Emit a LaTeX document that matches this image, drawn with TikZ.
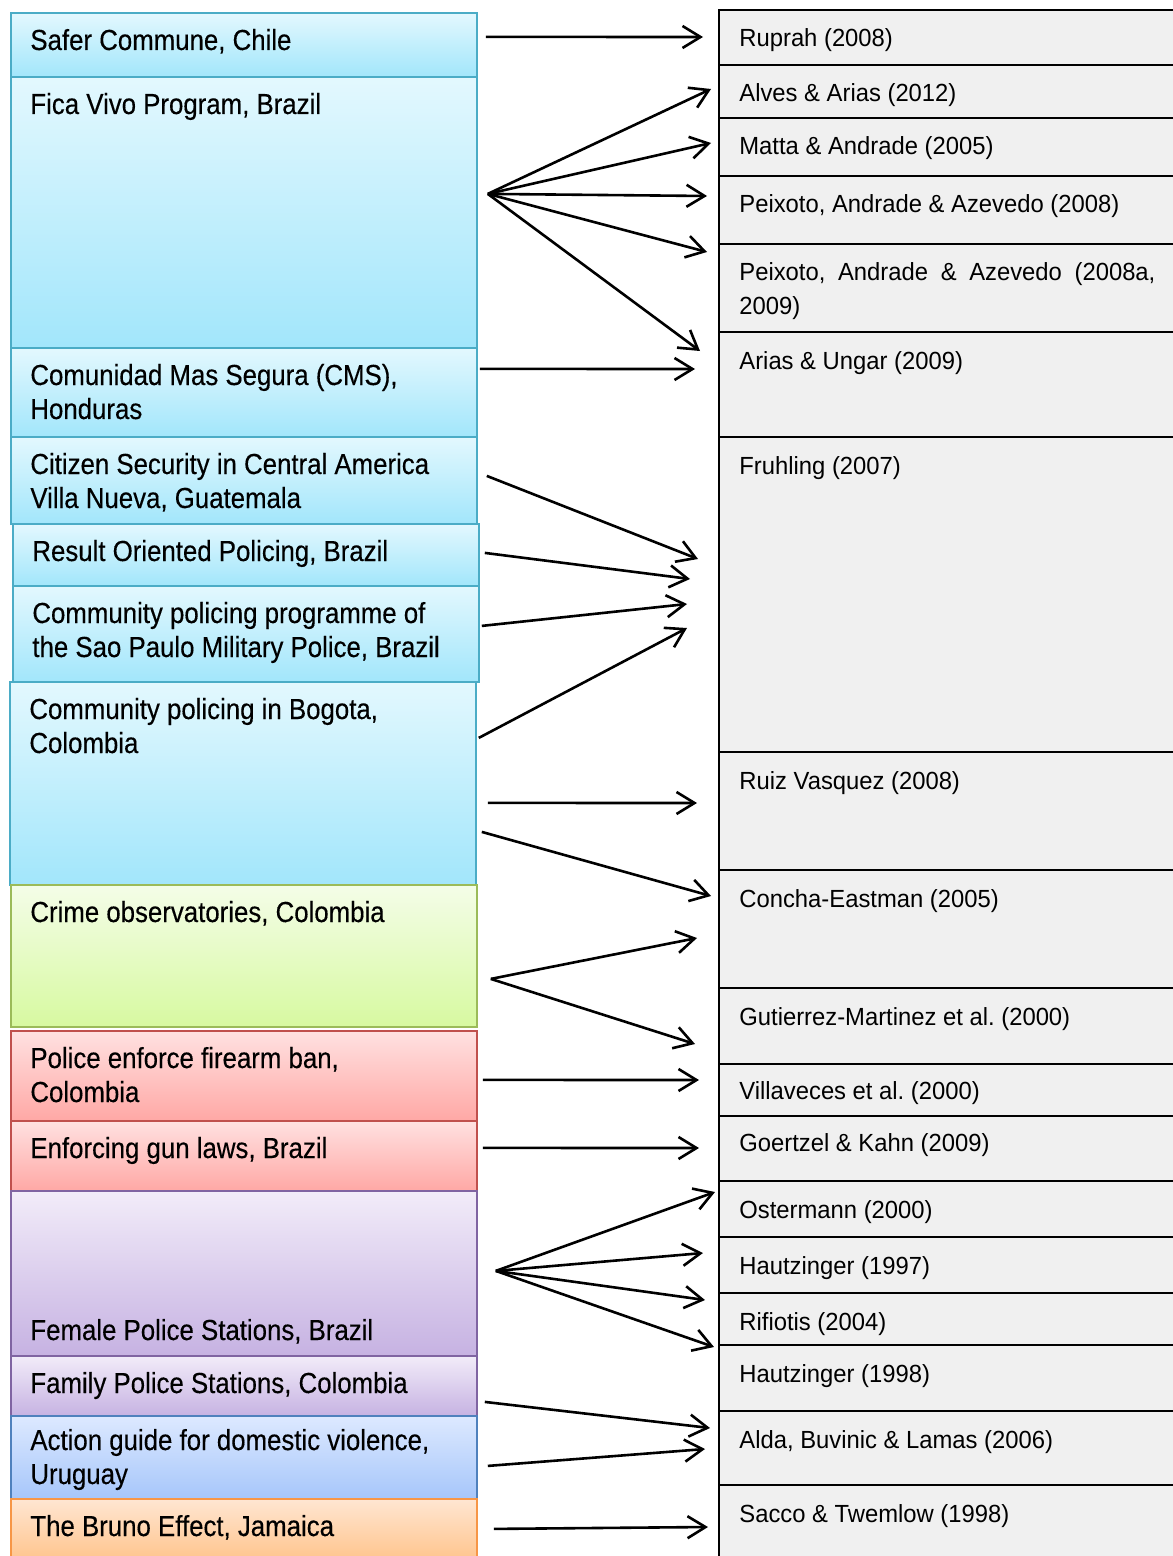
\documentclass[tikz,border=0pt]{standalone}
\usepackage{fontspec}
\setmainfont{Liberation Sans}
\newfontfamily\progfont[FakeStretch=0.89,FakeBold=0.3]{Liberation Sans}
\newfontfamily\studyfont[FakeStretch=0.96]{Liberation Sans}
\usetikzlibrary{arrows.meta,calc}
\frenchspacing

\definecolor{cyanline}{HTML}{4BACC6}
\definecolor{cyantop}{HTML}{E3F8FE}
\definecolor{cyanbot}{HTML}{A2E6FB}
\definecolor{greenline}{HTML}{9BBB59}
\definecolor{greentop}{HTML}{F4FDE8}
\definecolor{greenbot}{HTML}{D7F9A0}
\definecolor{redline}{HTML}{C0504D}
\definecolor{redtop}{HTML}{FFE1E1}
\definecolor{redbot}{HTML}{FFA8A5}
\definecolor{violetline}{HTML}{8064A2}
\definecolor{violettop}{HTML}{F2ECF9}
\definecolor{violetbot}{HTML}{C6B2E2}
\definecolor{skyline}{HTML}{4F81BD}
\definecolor{skytop}{HTML}{DDE9FF}
\definecolor{skybot}{HTML}{A6C6FA}
\definecolor{amberline}{HTML}{F79646}
\definecolor{ambertop}{HTML}{FFE6D2}
\definecolor{amberbot}{HTML}{FFC48C}
\definecolor{studygray}{HTML}{F0F0F0}

% [text drop]{name}{left}{top}{bottom}{look}{text}
\newcommand{\prog}[7][38]{%
  \node[#6, minimum height={(#5-#4)*0.5pt}] (#2) at (#3,#4) {};
  \node[progtext] (#2-t) at ($(#2.north west)+(20,#1)$) {\begin{tabular}[t]{@{}l@{}}#7\end{tabular}};
}
% [text drop]{name}{top}{bottom}{text}
\newcommand{\study}[5][38]{%
  \node[studybox, minimum height={(#4-#3)*0.5pt}] (#2) at (718,#3) {};
  \node[studytext] (#2-t) at ($(#2.north west)+(21,#1)$) {\begin{tabular}[t]{@{}l@{}}#5\end{tabular}};
}

\begin{document}
\begin{tikzpicture}[x=0.5pt, y=-0.5pt, >={Straight Barb[length=9pt,width=11pt]},
    prog/.style={rectangle, anchor=north west, inner sep=0pt, minimum width=233pt, line width=0.9pt},
    cyanprog/.style={prog, draw=cyanline, top color=cyantop, bottom color=cyanbot},
    greenprog/.style={prog, draw=greenline, top color=greentop, bottom color=greenbot},
    redprog/.style={prog, draw=redline, top color=redtop, bottom color=redbot},
    violetprog/.style={prog, draw=violetline, top color=violettop, bottom color=violetbot},
    skyprog/.style={prog, draw=skyline, top color=skytop, bottom color=skybot},
    amberprog/.style={prog, draw=amberline, top color=ambertop, bottom color=amberbot},
    progtext/.style={anchor=base west, inner sep=0pt, font=\progfont\fontsize{14.5pt}{17pt}\selectfont},
    studybox/.style={rectangle, anchor=north west, inner sep=0pt, minimum width=231pt, draw=black, fill=studygray, line width=1pt},
    studytext/.style={anchor=base west, inner sep=0pt, font=\studyfont\fontsize{12.4pt}{17pt}\selectfont},
    link/.style={->, line width=1.3pt}]
\useasboundingbox (0,0) rectangle (1172,1556);

% programmes
\prog{safer}{10}{12}{76}{cyanprog}{Safer Commune, Chile}
\prog{fica}{10}{76}{347}{cyanprog}{Fica Vivo Program, Brazil}
\prog{cms}{10}{347}{436}{cyanprog}{Comunidad Mas Segura (CMS),\\Honduras}
\prog{citizen}{10}{436}{523}{cyanprog}{Citizen Security in Central America\\Villa Nueva, Guatemala}
\prog{result}{12}{523}{585}{cyanprog}{Result Oriented Policing, Brazil}
\prog{saopaulo}{12}{585}{681}{cyanprog}{Community policing programme of\\the Sao Paulo Military Police, Brazil}
\prog{bogota}{9}{681}{884}{cyanprog}{Community policing in Bogota,\\Colombia}
\prog{observ}{10}{884}{1026}{greenprog}{Crime observatories, Colombia}
\prog{firearm}{10}{1030}{1120}{redprog}{Police enforce firearm ban,\\Colombia}
\prog{gunlaws}{10}{1120}{1190}{redprog}{Enforcing gun laws, Brazil}
\prog[150]{female}{10}{1190}{1355}{violetprog}{Female Police Stations, Brazil}
\prog{family}{10}{1355}{1415}{violetprog}{Family Police Stations, Colombia}
\prog[35]{action}{10}{1415}{1498}{skyprog}{Action guide for domestic violence,\\Uruguay}
\prog{bruno}{10}{1498}{1560}{amberprog}{The Bruno Effect, Jamaica}

% studies
\study{ruprah}{9}{64}{Ruprah (2008)}
\study{alves}{64}{117}{Alves \& Arias (2012)}
\study{matta}{117}{175}{Matta \& Andrade (2005)}
\study{peix}{175}{243}{Peixoto, Andrade \& Azevedo (2008)}
\study{peixa}{243}{331}{\makebox[208pt][s]{Peixoto, Andrade \& Azevedo (2008a,}\\2009)}
\study{arias}{331}{436}{Arias \& Ungar (2009)}
\study{fruhling}{436}{751}{Fruhling (2007)}
\study{ruiz}{751}{869}{Ruiz Vasquez (2008)}
\study{concha}{869}{987}{Concha-Eastman (2005)}
\study{gutierrez}{987}{1063}{Gutierrez-Martinez et al. (2000)}
\study[36]{villaveces}{1063}{1115}{Villaveces et al. (2000)}
\study[36]{goertzel}{1115}{1180}{Goertzel \& Kahn (2009)}
\study{ostermann}{1180}{1236}{Ostermann (2000)}
\study{hautzA}{1236}{1292}{Hautzinger (1997)}
\study{rifiotis}{1292}{1344}{Rifiotis (2004)}
\study{hautzB}{1344}{1410}{Hautzinger (1998)}
\study{alda}{1410}{1484}{Alda, Buvinic \& Lamas (2006)}
\study{sacco}{1484}{1560}{Sacco \& Twemlow (1998)}

% links
\coordinate (ficafan) at ($(fica.east)+(10,-18.5)$);
\coordinate (observfan) at ($(observ.east)+(13,23)$);
\coordinate (femalefan) at ($(female.east)+(18,-2.5)$);

\draw[link] ($(safer.east)+(8,-8)$) -- ($(ruprah.west)+(-15,-0.5)$);
\draw[link] (ficafan) -- ($(alves.west)+(-7,-2.5)$);
\draw[link] (ficafan) -- ($(matta.west)+(-7,-4)$);
\draw[link] (ficafan) -- ($(peix.west)+(-11,-14)$);
\draw[link] (ficafan) -- ($(peixa.west)+(-11,-36)$);
\draw[link] (ficafan) -- ($(arias.west)+(-18,-33.5)$);
\draw[link] ($(cms.east)+(2,-23.5)$) -- ($(arias.west)+(-23,-15.5)$);
\draw[link] ($(citizen.east)+(9,-4.5)$) -- ($(fruhling.west)+(-20,-35.5)$);
\draw[link] ($(result.east)+(5,-2)$) -- ($(fruhling.west)+(-28,-15.5)$);
\draw[link] ($(saopaulo.east)+(2,-8)$) -- ($(fruhling.west)+(-31,9.5)$);
\draw[link] ($(bogota.east)+(2,-45.5)$) -- ($(fruhling.west)+(-31,33.5)$);
\draw[link] ($(bogota.east)+(11,19.5)$) -- ($(ruiz.west)+(-21,-8)$);
\draw[link] ($(bogota.east)+(5,48.5)$) -- ($(concha.west)+(-7,-33)$);
\draw[link] (observfan) -- ($(concha.west)+(-21,9)$);
\draw[link] (observfan) -- ($(gutierrez.west)+(-23,18)$);
\draw[link] ($(firearm.east)+(5,4)$) -- ($(villaveces.west)+(-19,-10)$);
\draw[link] ($(gunlaws.east)+(5,-8)$) -- ($(goertzel.west)+(-19,-0.5)$);
\draw[link] (femalefan) -- ($(ostermann.west)+(-3,-17)$);
\draw[link] (femalefan) -- ($(hautzA.west)+(-15,-12)$);
\draw[link] (femalefan) -- ($(rifiotis.west)+(-13,-19)$);
\draw[link] (femalefan) -- ($(hautzB.west)+(-4,-31)$);
\draw[link] ($(family.east)+(7,16)$) -- ($(alda.west)+(-8,-20)$);
\draw[link] ($(action.east)+(10,8.5)$) -- ($(alda.west)+(-13,1)$);
\draw[link] ($(bruno.east)+(16,-1)$) -- ($(sacco.west)+(-10,4)$);
\end{tikzpicture}
\end{document}
